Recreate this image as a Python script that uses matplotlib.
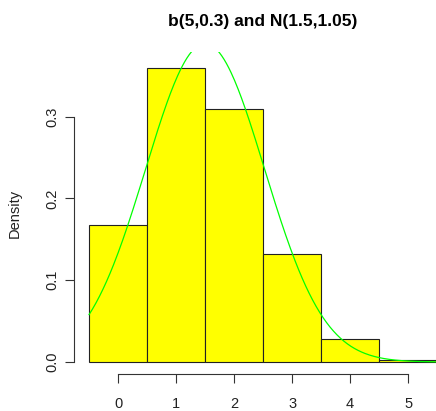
import numpy as np
import matplotlib
matplotlib.use("Agg")
from matplotlib import pyplot as plt

# histogram of b(5,0.3)
outcomes = [0, 1, 2, 3, 4, 5]
density = [0.168, 0.360, 0.309, 0.132, 0.028, 0.0024]

# normal curve parameters from the title N(mean, variance)
norm_mean = 1.5
norm_var = 1.05

x_ticks = [0, 1, 2, 3, 4, 5]
y_ticks = [0.0, 0.1, 0.2, 0.3]
y_tick_labels = ["0.0", "0.1", "0.2", "0.3"]

plt.rcParams['font.family'] = ['Liberation Sans', 'DejaVu Sans']

fig = plt.figure(figsize=(4.36, 4.11), dpi=100)
ax = fig.add_axes([74 / 436, 37 / 411, 377 / 436, 322 / 411])

ax.bar(outcomes, density, width=1.0, color="#FFFF00", edgecolor="#222222",
       linewidth=0.8, zorder=2)

x_curve = np.linspace(-0.5, 5.5, 300)
sd = np.sqrt(norm_var)
y_curve = np.exp(-0.5 * ((x_curve - norm_mean) / sd) ** 2) / (sd * np.sqrt(2 * np.pi))
ax.plot(x_curve, y_curve, color="#00FF00", linewidth=0.9, zorder=3)

ax.set_xlim(-0.76, 5.74)
ax.set_ylim(-0.0147, 0.379)

for side in ["top", "right"]:
    ax.spines[side].set_visible(False)
ax.spines["bottom"].set_bounds(0, 5)
ax.spines["left"].set_bounds(0, 0.3)
for side in ["bottom", "left"]:
    ax.spines[side].set_color("#333333")
    ax.spines[side].set_linewidth(0.8)

ax.set_xticks(x_ticks)
ax.set_yticks(y_ticks)
ax.set_yticklabels(y_tick_labels, rotation=90, va="center")
ax.tick_params(axis="both", length=6.5, width=0.8, color="#333333",
               labelsize=10.5, labelcolor="#222222")
ax.tick_params(axis="x", pad=10)
ax.tick_params(axis="y", pad=4)

ax.set_ylabel("Density", fontsize=10.5, color="#222222", labelpad=17)
ax.set_title("b(5,0.3) and N(1.5,1.05)", fontsize=12.5, fontweight="bold",
             pad=19)

fig.savefig("out.png", dpi=100)
